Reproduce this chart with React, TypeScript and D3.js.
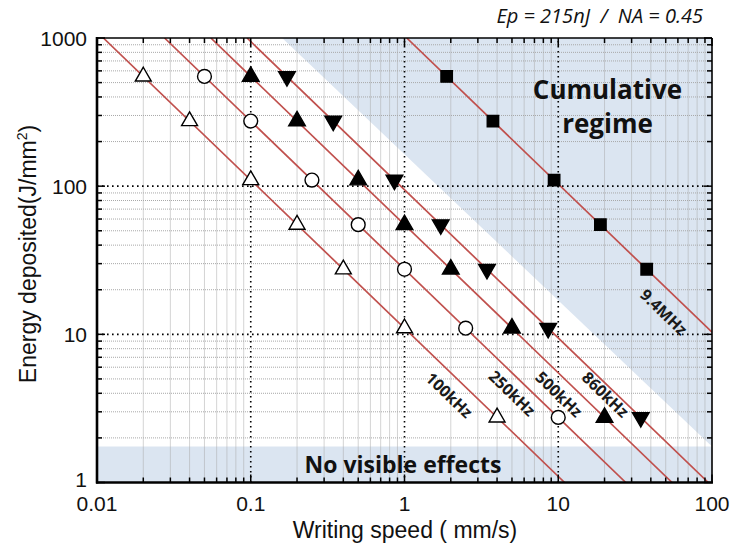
import { useEffect, useRef } from "react";
import * as d3 from "d3";

// frequencies and the constant of each E = k / v line
const seriesNames = ["100kHz", "250kHz", "500kHz", "860kHz", "9.4MHz"];
const lineConst = [11, 27.5, 55, 94.6, 1034];

// measured points (writing speed mm/s, energy J/mm2)
const speed100 = [0.02, 0.04, 0.1, 0.2, 0.4, 1, 4];
const energy100 = [550, 275, 110, 55, 27.5, 11, 2.75];
const speed250 = [0.05, 0.1, 0.25, 0.5, 1, 2.5, 10];
const energy250 = [550, 275, 110, 55, 27.5, 11, 2.75];
const speed500 = [0.1, 0.2, 0.5, 1, 2, 5, 20];
const energy500 = [550, 275, 110, 55, 27.5, 11, 2.75];
const speed860 = [0.172, 0.344, 0.86, 1.72, 3.44, 8.6, 34.4];
const energy860 = [550, 275, 110, 55, 27.5, 11, 2.75];
const speed9400 = [1.88, 3.76, 9.4, 18.8, 37.6];
const energy9400 = [550, 275, 110, 55, 27.5];

const xTickValues = [0.01, 0.1, 1, 10, 100];
const xTickLabels = ["0.01", "0.1", "1", "10", "100"];
const yTickValues = [1, 10, 100, 1000];
const yTickLabels = ["1", "10", "100", "1000"];

// shaded regions in data space
const cumulativeRegion = [
  [0.16, 1000],
  [100, 1000],
  [100, 1.75],
];
const noEffectBand = [
  [0.01, 1],
  [100, 1],
  [100, 1.75],
  [0.01, 1.75],
];

const W = 731;
const H = 545;
const margin = { top: 38, right: 19, bottom: 62.5, left: 97 };

const App = () => {
  const svgRef = useRef<SVGSVGElement>(null);

  useEffect(() => {
    const svg = d3.select(svgRef.current);
    svg.selectAll("*").remove();

    const x = d3
      .scaleLog()
      .domain([0.01, 100])
      .range([margin.left, W - margin.right]);
    const y = d3
      .scaleLog()
      .domain([1, 1000])
      .range([H - margin.bottom, margin.top]);

    const x0 = margin.left;
    const x1 = W - margin.right;
    const y0 = H - margin.bottom;
    const y1 = margin.top;

    const shade = "#dbe5f1";
    const toPts = (arr: number[][]) =>
      arr.map((p) => [x(p[0]), y(p[1])].join(",")).join(" ");

    svg.append("polygon").attr("points", toPts(cumulativeRegion)).attr("fill", shade);
    svg.append("polygon").attr("points", toPts(noEffectBand)).attr("fill", shade);

    // minor grid
    const minorX: number[] = [];
    for (let d = -2; d < 2; d++)
      for (let m = 2; m <= 9; m++) minorX.push(m * Math.pow(10, d));
    const minorY: number[] = [];
    for (let d = 0; d < 3; d++)
      for (let m = 2; m <= 9; m++) minorY.push(m * Math.pow(10, d));

    const grid = svg.append("g");
    grid
      .selectAll(".mx")
      .data(minorX)
      .enter()
      .append("line")
      .attr("x1", (d) => x(d))
      .attr("x2", (d) => x(d))
      .attr("y1", y0)
      .attr("y2", y1)
      .attr("stroke", "#a8a8a8")
      .attr("stroke-width", 1)
      .attr("stroke-dasharray", "1,1");
    grid
      .selectAll(".my")
      .data(minorY)
      .enter()
      .append("line")
      .attr("y1", (d) => y(d))
      .attr("y2", (d) => y(d))
      .attr("x1", x0)
      .attr("x2", x1)
      .attr("stroke", "#a8a8a8")
      .attr("stroke-width", 1)
      .attr("stroke-dasharray", "1,1");

    // major grid (dotted black)
    grid
      .selectAll(".Mx")
      .data(xTickValues.slice(1, -1))
      .enter()
      .append("line")
      .attr("x1", (d) => x(d))
      .attr("x2", (d) => x(d))
      .attr("y1", y0)
      .attr("y2", y1)
      .attr("stroke", "#000")
      .attr("stroke-width", 1.6)
      .attr("stroke-dasharray", "1.6,3.4");
    grid
      .selectAll(".My")
      .data(yTickValues.slice(1, -1))
      .enter()
      .append("line")
      .attr("y1", (d) => y(d))
      .attr("y2", (d) => y(d))
      .attr("x1", x0)
      .attr("x2", x1)
      .attr("stroke", "#000")
      .attr("stroke-width", 1.6)
      .attr("stroke-dasharray", "1.6,3.4");

    // E = k / v lines, clipped to the plot
    svg
      .append("defs")
      .append("clipPath")
      .attr("id", "plotClip")
      .append("rect")
      .attr("x", x0)
      .attr("y", y1)
      .attr("width", x1 - x0)
      .attr("height", y0 - y1);

    const lineG = svg.append("g").attr("clip-path", "url(#plotClip)");
    lineConst.forEach((k) => {
      const vA = Math.max(0.01, k / 1000);
      const vB = Math.min(100, k / 1);
      lineG
        .append("line")
        .attr("x1", x(vA))
        .attr("y1", y(k / vA))
        .attr("x2", x(vB))
        .attr("y2", y(k / vB))
        .attr("stroke", "#c0504d")
        .attr("stroke-width", 1.7);
    });

    // markers
    const zip = (a: number[], b: number[]) => a.map((v, i) => [v, b[i]]);
    const markerSets = [
      { pts: zip(speed100, energy100), type: d3.symbolTriangle, size: 110, fill: "#fff", rot: 0 },
      { pts: zip(speed250, energy250), type: d3.symbolCircle, size: 150, fill: "#fff", rot: 0 },
      { pts: zip(speed500, energy500), type: d3.symbolTriangle, size: 120, fill: "#000", rot: 0 },
      { pts: zip(speed860, energy860), type: d3.symbolTriangle, size: 120, fill: "#000", rot: 180 },
      { pts: zip(speed9400, energy9400), type: d3.symbolSquare, size: 130, fill: "#000", rot: 0 },
    ];
    markerSets.forEach((ms) => {
      const sym = d3.symbol().type(ms.type).size(ms.size);
      svg
        .append("g")
        .selectAll("path")
        .data(ms.pts)
        .enter()
        .append("path")
        .attr("d", sym() as string)
        .attr(
          "transform",
          (d) => `translate(${x(d[0])},${y(d[1])}) rotate(${ms.rot})`
        )
        .attr("fill", ms.fill)
        .attr("stroke", "#000")
        .attr("stroke-width", 1.4);
    });

    // line labels, rotated along the lines
    const labelAt = [
      { v: 1.96, off: 23.5 },
      { v: 5.02, off: 20 },
      { v: 10.14, off: 20.5 },
      { v: 20.3, off: 11 },
      { v: 48.7, off: 26 },
    ];
    const angle =
      (Math.atan2(y(1) - y(10), x(10) - x(1)) * 180) / Math.PI;
    seriesNames.forEach((name, i) => {
      const k = lineConst[i];
      const { v, off } = labelAt[i];
      const cx = x(v);
      const cy = y(k / v) + off;
      svg
        .append("text")
        .attr("transform", `translate(${cx},${cy}) rotate(${angle})`)
        .attr("text-anchor", "middle")
        .attr("dominant-baseline", "central")
        .attr("font-family", "Open Sans")
        .attr("font-weight", "bold")
        .attr("font-size", 16)
        .attr("fill", "#1a1a1a")
        .text(name);
    });

    // region annotations
    const cumX = 607.5;
    const cum = svg
      .append("text")
      .attr("text-anchor", "middle")
      .attr("font-family", "Open Sans")
      .attr("font-weight", "bold")
      .attr("font-size", 26)
      .attr("fill", "#111");
    cum.append("tspan").attr("x", cumX).attr("y", 99).text("Cumulative");
    cum.append("tspan").attr("x", cumX).attr("y", 133).text("regime");

    svg
      .append("text")
      .attr("x", 403)
      .attr("y", 473)
      .attr("text-anchor", "middle")
      .attr("font-family", "Open Sans")
      .attr("font-weight", "bold")
      .attr("font-size", 23)
      .attr("fill", "#111")
      .text("No visible effects");

    svg
      .append("text")
      .attr("x", 703)
      .attr("y", 23)
      .attr("text-anchor", "end")
      .attr("font-family", "Open Sans")
      .attr("font-style", "italic")
      .attr("font-size", 20)
      .attr("fill", "#111")
      .attr("xml:space", "preserve")
      .text("Ep = 215nJ  /  NA = 0.45");

    // axis frame and inward ticks
    const frame = svg.append("g");
    const allX = [...xTickValues, ...minorX];
    const allY = [...yTickValues, ...minorY];
    const isMajor = (v: number) => Math.abs(Math.log10(v) - Math.round(Math.log10(v))) < 1e-6;
    allX.forEach((v) => {
      const len = isMajor(v) ? 8 : 5;
      frame.append("line").attr("x1", x(v)).attr("x2", x(v)).attr("y1", y0).attr("y2", y0 - len)
        .attr("stroke", "#000").attr("stroke-width", 1.5);
      frame.append("line").attr("x1", x(v)).attr("x2", x(v)).attr("y1", y1).attr("y2", y1 + len)
        .attr("stroke", "#000").attr("stroke-width", 1.5);
    });
    allY.forEach((v) => {
      const len = isMajor(v) ? 8 : 5;
      frame.append("line").attr("y1", y(v)).attr("y2", y(v)).attr("x1", x0).attr("x2", x0 + len)
        .attr("stroke", "#000").attr("stroke-width", 1.5);
      frame.append("line").attr("y1", y(v)).attr("y2", y(v)).attr("x1", x1).attr("x2", x1 - len)
        .attr("stroke", "#000").attr("stroke-width", 1.5);
    });
    frame.append("line").attr("x1", x0).attr("x2", x1).attr("y1", y1).attr("y2", y1)
      .attr("stroke", "#000").attr("stroke-width", 1.6);
    frame.append("line").attr("x1", x1).attr("x2", x1).attr("y1", y1).attr("y2", y0)
      .attr("stroke", "#000").attr("stroke-width", 1.6);
    frame.append("line").attr("x1", x0 - 1).attr("x2", x1 + 1).attr("y1", y0).attr("y2", y0)
      .attr("stroke", "#000").attr("stroke-width", 2.6);
    frame.append("line").attr("x1", x0).attr("x2", x0).attr("y1", y1 - 1).attr("y2", y0 + 1)
      .attr("stroke", "#000").attr("stroke-width", 2.6);

    // tick labels
    xTickValues.forEach((v, i) => {
      svg.append("text")
        .attr("x", x(v))
        .attr("y", 511)
        .attr("text-anchor", "middle")
        .attr("font-family", "Liberation Sans")
        .attr("font-size", 21)
        .attr("fill", "#111")
        .text(xTickLabels[i]);
    });
    yTickValues.forEach((v, i) => {
      svg.append("text")
        .attr("x", 87)
        .attr("y", y(v) + (v === 1 ? 4 : 7.5))
        .attr("text-anchor", "end")
        .attr("font-family", "Liberation Sans")
        .attr("font-size", 21)
        .attr("fill", "#111")
        .text(yTickLabels[i]);
    });

    // axis titles
    svg.append("text")
      .attr("x", 405)
      .attr("y", 538)
      .attr("text-anchor", "middle")
      .attr("font-family", "Liberation Sans")
      .attr("font-size", 23)
      .attr("fill", "#111")
      .text("Writing speed ( mm/s)");

    const yt = svg.append("text")
      .attr("transform", "translate(36,254) rotate(-90)")
      .attr("text-anchor", "middle")
      .attr("font-family", "Liberation Sans")
      .attr("font-size", 23)
      .attr("fill", "#111");
    yt.append("tspan").text("Energy deposited(J/mm");
    yt.append("tspan").attr("dy", -9).attr("font-size", 14).text("2");
    yt.append("tspan").attr("dy", 9).text(")");
  }, []);

  return (
    <svg
      ref={svgRef}
      width={W}
      height={H}
      style={{ position: "absolute", left: 0, top: 0, background: "#fff" }}
    />
  );
};

export default App;
